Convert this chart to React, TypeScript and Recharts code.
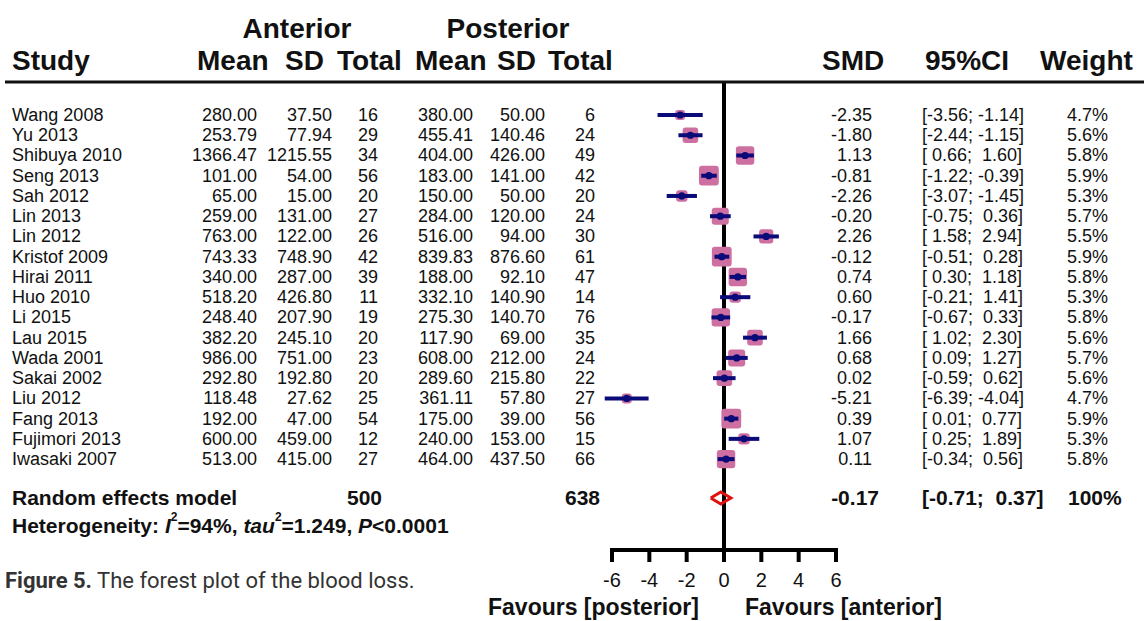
import React from "react";
import { ComposedChart, Scatter, XAxis, YAxis, ReferenceLine } from "recharts";

const FONT = "'Liberation Sans', Arial, Helvetica, sans-serif";

const studies = [
  "Wang 2008", "Yu 2013", "Shibuya 2010", "Seng 2013", "Sah 2012", "Lin 2013",
  "Lin 2012", "Kristof 2009", "Hirai 2011", "Huo 2010", "Li 2015", "Lau 2015",
  "Wada 2001", "Sakai 2002", "Liu 2012", "Fang 2013", "Fujimori 2013", "Iwasaki 2007",
];
const antMean = [280.0, 253.79, 1366.47, 101.0, 65.0, 259.0, 763.0, 743.33, 340.0, 518.2, 248.4, 382.2, 986.0, 292.8, 118.48, 192.0, 600.0, 513.0];
const antSD = [37.5, 77.94, 1215.55, 54.0, 15.0, 131.0, 122.0, 748.9, 287.0, 426.8, 207.9, 245.1, 751.0, 192.8, 27.62, 47.0, 459.0, 415.0];
const antN = [16, 29, 34, 56, 20, 27, 26, 42, 39, 11, 19, 20, 23, 20, 25, 54, 12, 27];
const postMean = [380.0, 455.41, 404.0, 183.0, 150.0, 284.0, 516.0, 839.83, 188.0, 332.1, 275.3, 117.9, 608.0, 289.6, 361.11, 175.0, 240.0, 464.0];
const postSD = [50.0, 140.46, 426.0, 141.0, 50.0, 120.0, 94.0, 876.6, 92.1, 140.9, 140.7, 69.0, 212.0, 215.8, 57.8, 39.0, 153.0, 437.5];
const postN = [6, 24, 49, 42, 20, 24, 30, 61, 47, 14, 76, 35, 24, 22, 27, 56, 15, 66];
const smd = [-2.35, -1.8, 1.13, -0.81, -2.26, -0.2, 2.26, -0.12, 0.74, 0.6, -0.17, 1.66, 0.68, 0.02, -5.21, 0.39, 1.07, 0.11];
const lower = [-3.56, -2.44, 0.66, -1.22, -3.07, -0.75, 1.58, -0.51, 0.3, -0.21, -0.67, 1.02, 0.09, -0.59, -6.39, 0.01, 0.25, -0.34];
const upper = [-1.14, -1.15, 1.6, -0.39, -1.45, 0.36, 2.94, 0.28, 1.18, 1.41, 0.33, 2.3, 1.27, 0.62, -4.04, 0.77, 1.89, 0.56];
const weight = [4.7, 5.6, 5.8, 5.9, 5.3, 5.7, 5.5, 5.9, 5.8, 5.3, 5.8, 5.6, 5.7, 5.6, 4.7, 5.9, 5.3, 5.8];

const totalAnt = 500;
const totalPost = 638;
const pooled = { smd: -0.17, lower: -0.71, upper: 0.37 };
const xTicks = [-6, -4, -2, 0, 2, 4, 6];

const SUMMARY_ROW = 18.92;
const Y_DOMAIN: [number, number] = [-1.63, 21.49];
const NAVY = "#0a0a78";

const f2 = (v: number) => v.toFixed(2);
const ciPart = (v: number) => (v < 0 ? f2(v) : " " + f2(v));
const ciText = (lo: number, hi: number) => `[${ciPart(lo)}; ${ciPart(hi)}]`;

const rows = studies.map((name, i) => ({ x: smd[i], y: i, name, w: weight[i] }));
const ciSegments = studies.map((_, i) => [
  { x: lower[i], y: i },
  { x: upper[i], y: i },
]);

const summary = [{ x: pooled.smd, y: SUMMARY_ROW }];
const diamond = [
  { x: pooled.lower, y: SUMMARY_ROW },
  { x: pooled.smd, y: SUMMARY_ROW - 0.3 },
  { x: pooled.upper, y: SUMMARY_ROW },
  { x: pooled.smd, y: SUMMARY_ROW + 0.3 },
  { x: pooled.lower, y: SUMMARY_ROW },
];

const base = { fontFamily: FONT, fontSize: 18, fill: "#111" };

function RowText(props: any) {
  const { cy, payload } = props;
  const i = payload.y as number;
  const c = { ...base, y: cy, dominantBaseline: "central" as const };
  return (
    <g>
      <text x={12} {...c}>{studies[i]}</text>
      <text x={257} textAnchor="end" {...c}>{f2(antMean[i])}</text>
      <text x={332} textAnchor="end" {...c}>{f2(antSD[i])}</text>
      <text x={378} textAnchor="end" {...c}>{antN[i]}</text>
      <text x={473} textAnchor="end" {...c}>{f2(postMean[i])}</text>
      <text x={545} textAnchor="end" {...c}>{f2(postSD[i])}</text>
      <text x={595} textAnchor="end" {...c}>{postN[i]}</text>
      <text x={872} textAnchor="end" {...c}>{f2(smd[i])}</text>
      <text x={922} xmlSpace="preserve" style={{ whiteSpace: "pre" }} {...c}>
        {ciText(lower[i], upper[i])}
      </text>
      <text x={1108} textAnchor="end" {...c}>{weight[i].toFixed(1)}%</text>
    </g>
  );
}

function SummaryText(props: any) {
  const { cy } = props;
  const c = { ...base, fontSize: 21, fontWeight: 700, y: cy, dominantBaseline: "central" as const };
  return (
    <g>
      <text x={12} {...c}>Random effects model</text>
      <text x={382} textAnchor="end" {...c}>{totalAnt}</text>
      <text x={600} textAnchor="end" {...c}>{totalPost}</text>
      <text x={879} textAnchor="end" {...c}>{f2(pooled.smd)}</text>
      <text x={922} xmlSpace="preserve" style={{ whiteSpace: "pre" }} {...c}>
        {ciText(pooled.lower, pooled.upper)}
      </text>
      <text x={1068} {...c}>100%</text>
    </g>
  );
}

function Box(props: any) {
  const { cx, cy, payload } = props;
  const s = Math.max(10, 10 + (payload.w - 5.2) * 14);
  return <rect x={cx - s / 2} y={cy - s / 2} width={s} height={s} rx={3} fill="#cd6fa0" />;
}

function Dot(props: any) {
  const { cx, cy } = props;
  return <circle cx={cx} cy={cy} r={3.6} fill={NAVY} />;
}

const Empty = () => <g />;

export default function App() {
  const hb = { fontFamily: FONT, fontSize: 28, fontWeight: 700, fill: "#111" };
  return (
    <div style={{ position: "absolute", left: 0, top: 0, width: 1144, height: 621, background: "#fff" }}>
      <ComposedChart
        width={1144}
        height={621}
        margin={{ top: 82, right: 298.67, left: 602.67, bottom: 31 }}
      >
        <XAxis
          type="number"
          dataKey="x"
          domain={[-6.5, 6.5]}
          ticks={xTicks}
          interval={0}
          axisLine={false}
          tickLine={{ stroke: "#000", strokeWidth: 4 }}
          tickSize={12}
          tickMargin={11}
          height={40}
          tick={{ fontSize: 20, fill: "#111", fontFamily: FONT }}
        />
        <YAxis type="number" dataKey="y" domain={Y_DOMAIN} reversed hide />
        <ReferenceLine x={0} stroke="#000" strokeWidth={4} />
        <ReferenceLine
          segment={[{ x: -6, y: Y_DOMAIN[1] }, { x: 6, y: Y_DOMAIN[1] }]}
          stroke="#000"
          strokeWidth={4}
          strokeLinecap="square"
          ifOverflow="visible"
        />
        <Scatter data={rows} shape={<Box />} isAnimationActive={false} />
        {ciSegments.map((seg, i) => (
          <Scatter
            key={`ci-${i}`}
            data={seg}
            shape={<Empty />}
            line={{ stroke: NAVY, strokeWidth: 4 }}
            lineType="joint"
            isAnimationActive={false}
          />
        ))}
        <Scatter data={rows} shape={<Dot />} isAnimationActive={false} />
        <Scatter
          data={diamond}
          shape={<Empty />}
          line={{ stroke: "#e01010", strokeWidth: 3, strokeLinejoin: "miter" }}
          lineType="joint"
          isAnimationActive={false}
        />
        <Scatter data={rows} shape={<RowText />} isAnimationActive={false} />
        <Scatter data={summary} shape={<SummaryText />} isAnimationActive={false} />
      </ComposedChart>
      <svg
        width={1144}
        height={621}
        style={{ position: "absolute", left: 0, top: 0, pointerEvents: "none" }}
      >
        <text x={297} y={37.5} textAnchor="middle" {...hb}>Anterior</text>
        <text x={508} y={37.5} textAnchor="middle" {...hb}>Posterior</text>
        <text x={12} y={70} {...hb}>Study</text>
        <text x={197} y={70} {...hb}>Mean</text>
        <text x={285} y={70} {...hb}>SD</text>
        <text x={337} y={70} {...hb}>Total</text>
        <text x={415} y={70} {...hb}>Mean</text>
        <text x={497} y={70} {...hb}>SD</text>
        <text x={548} y={70} {...hb}>Total</text>
        <text x={822} y={70} {...hb}>SMD</text>
        <text x={925} y={70} {...hb}>95%CI</text>
        <text x={1040} y={70} {...hb}>Weight</text>
        <line x1={5} x2={1144} y1={82} y2={82} stroke="#111" strokeWidth={3} />
        <text x={12} y={525} dominantBaseline="central" fontFamily={FONT} fontSize={21} fontWeight={700} fill="#111">
          Heterogeneity:{" "}
          <tspan fontStyle="italic">I</tspan>
          <tspan fontSize={12} dy={-8}>2</tspan>
          <tspan dy={8}>=94%, </tspan>
          <tspan fontStyle="italic">tau</tspan>
          <tspan fontSize={12} dy={-8}>2</tspan>
          <tspan dy={8}>=1.249, </tspan>
          <tspan fontStyle="italic">P</tspan>
          <tspan>&lt;0.0001</tspan>
        </text>
        <text x={5} y={580} dominantBaseline="central" fontFamily="Roboto, sans-serif" fontSize={22} fill="#333">
          <tspan fontWeight={700}>Figure 5.</tspan>
          <tspan> The forest plot of the blood loss.</tspan>
        </text>
        <text x={488} y={615} fontFamily={FONT} fontSize={23} fontWeight={700} fill="#111">
          Favours [posterior]
        </text>
        <text x={745} y={615} fontFamily={FONT} fontSize={23} fontWeight={700} fill="#111">
          Favours [anterior]
        </text>
      </svg>
    </div>
  );
}
